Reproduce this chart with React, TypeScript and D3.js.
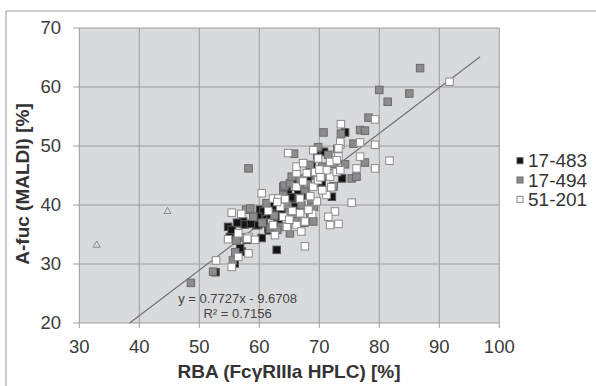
import React from "react";
import * as d3 from "d3";

const xTicks = [30, 40, 50, 60, 70, 80, 90, 100];
const yTicks = [20, 30, 40, 50, 60, 70];
const seriesNames = ["17-483", "17-494", "51-201"];

const s17483: [number, number][] = [
  [52.7,28.6],[55.9,30.1],[57.1,32.1],[56.8,32.7],[62.9,32.4],[55.1,34.6],[57.9,34.1],[60.4,34.4],
  [54.8,36.3],[55.4,35.8],[56.8,36.9],[57.3,37.2],[57.6,36.7],[59.8,36.6],[59.5,36.6],[60.7,36.9],
  [61.5,36.0],[61.6,35.7],[60.1,39.2],[60.9,38.3],[61.2,38.3],[62.9,38.6],[61.8,39.7],[60.7,38.9],
  [61.9,38.4],[63.7,39.2],[66.0,39.7],[64.6,42.3],[65.4,41.1],[64.8,41.9],[65.3,41.3],[67.1,41.6],
  [66.2,43.7],[68.1,44.2],[70.3,43.7],[70.4,43.9],[72.1,41.4],[73.8,44.5],[68.7,46.7],[69.7,48.4],
  [70.7,49.0],[70.8,49.0],[74.3,52.3],[59.8,38.0],[63.2,37.0],[64.2,40.5],[66.5,42.5],[62.5,39.9],
  [58.6,36.8],[67.8,43.0],[56.3,37.0],[63.0,38.0]
];

const s17494: [number, number][] = [
  [48.6,26.8],[52.3,28.7],[55.6,30.6],[56.2,34.0],[57.8,39.2],[58.5,39.4],[59.0,38.0],[58.2,46.2],
  [61.2,40.3],[61.8,36.0],[62.1,36.3],[63.7,36.3],[64.0,41.7],[64.0,43.1],[64.2,43.3],[65.1,43.7],
  [65.4,44.8],[65.1,38.9],[65.1,35.2],[66.0,37.7],[65.8,48.7],[66.2,38.5],[67.5,37.0],[67.6,42.6],
  [68.4,46.8],[68.7,40.3],[68.5,38.0],[69.0,37.2],[69.1,39.7],[69.8,49.8],[70.7,52.3],[72.3,43.1],
  [72.4,43.2],[73.6,52.1],[74.3,46.9],[75.4,44.5],[76.2,44.8],[75.7,50.4],[76.8,52.7],[77.6,52.6],
  [77.6,47.2],[78.2,54.8],[80.0,59.5],[81.4,57.5],[85.0,58.9],[86.8,63.2],[63.0,35.8],[62.5,38.2],
  [66.8,44.5],[67.0,40.0],[69.5,45.0],[70.5,46.5],[71.0,45.0],[64.5,40.0],[60.5,37.0],[57.5,34.5],
  [56.0,32.0],[68.0,43.5],[71.5,48.5],[72.5,47.0],[73.0,49.5]
];

const s51201: [number, number][] = [
  [52.8,30.6],[55.4,29.5],[56.5,31.2],[58.2,31.8],[54.8,34.2],[56.5,35.2],[58.2,34.6],[59.3,34.1],
  [55.4,38.7],[62.6,34.9],[62.3,36.6],[66.0,36.3],[64.6,36.3],[66.2,36.6],[67.6,37.2],[64.0,38.0],
  [66.8,38.6],[68.8,38.5],[63.5,39.7],[68.2,39.2],[69.6,40.6],[60.4,42.0],[62.3,41.1],[63.2,41.1],
  [66.8,41.1],[71.2,41.7],[66.2,43.1],[69.0,43.1],[67.3,44.0],[69.8,44.2],[71.8,44.8],[66.2,45.4],
  [67.9,45.4],[69.3,45.6],[71.2,45.9],[72.9,45.6],[73.5,45.9],[66.2,46.5],[67.3,47.1],[71.8,47.3],
  [69.8,47.9],[73.2,48.2],[64.8,48.8],[69.0,49.3],[73.5,50.2],[73.5,50.7],[73.2,49.6],[72.9,47.6],
  [73.6,53.7],[76.8,50.6],[79.3,50.2],[79.3,54.5],[76.8,48.2],[81.7,47.5],[76.2,46.2],[79.3,46.2],
  [75.4,40.4],[72.6,38.9],[71.5,38.0],[71.8,36.6],[73.2,36.8],[67.6,33.0],[91.7,60.9],[70.5,42.5],
  [65.5,39.0],[61.5,39.0],[67.0,35.5],[68.5,41.5],[70.0,46.0],[72.0,43.0],[63.0,40.5],[65.0,37.5],
  [57.0,38.5],[58.0,34.3],[64.3,41.0],[70.2,44.7]
];

const outliers: [number, number][] = [[32.9, 33.2], [44.7, 38.9]];

const slope = 0.7727;
const intercept = -9.6708;
const fitRange = [38.4, 96.8];
const eqLines = ["y = 0.7727x - 9.6708", "R² = 0.7156"];

const seriesData = [s17483, s17494, s51201];
const fills = ["#141414", "#8c8c8c", "#ffffff"];
const strokes = ["#555", "#6a6a6a", "#8a8a8a"];

export default function App() {
  const W = 596, H = 386;
  const x = d3.scaleLinear().domain([30, 100]).range([79.3, 499.3]);
  const y = d3.scaleLinear().domain([20, 70]).range([323, 28]);
  const ms = 7.5;
  const line = d3.line<number>().x(d => x(d)).y(d => y(slope * d + intercept));
  const tri = d3.symbol().type(d3.symbolTriangle).size(22)();
  const font = "Liberation Sans, Arial, Helvetica, sans-serif";
  return (
    <svg width={W} height={H} style={{ position: "absolute", left: 0, top: 0, background: "#fff" }} fontFamily={font}>
      <rect x={6} y={11} width={700} height={500} fill="#fff" stroke="#9a9a9a" strokeWidth={1} />
      <rect x={x(30)} y={y(70)} width={x(100) - x(30)} height={y(20) - y(70)} fill="#d9dadc" />
      {xTicks.map(t => (
        <line key={"gx" + t} x1={x(t)} x2={x(t)} y1={y(70)} y2={y(20) + 5} stroke="#9c9c9c" strokeWidth={1} />
      ))}
      {yTicks.map(t => (
        <line key={"gy" + t} x1={x(30) - 6} x2={x(100)} y1={y(t)} y2={y(t)} stroke="#9c9c9c" strokeWidth={1} />
      ))}
      {xTicks.map(t => (
        <text key={"tx" + t} x={x(t)} y={352.5} textAnchor="middle" fontSize={18.5} fill="#3a3a3a">{t}</text>
      ))}
      {yTicks.map(t => (
        <text key={"ty" + t} x={61} y={y(t)} dy="0.35em" textAnchor="end" fontSize={18.5} fill="#3a3a3a">{t}</text>
      ))}
      <path d={line(fitRange) || ""} stroke="#6e6e6e" strokeWidth={1.1} fill="none" />
      {seriesData.map((arr, si) =>
        arr.map((p, i) => (
          <rect key={si + "-" + i} x={x(p[0]) - ms / 2} y={y(p[1]) - ms / 2} width={ms} height={ms}
            fill={fills[si]} stroke={strokes[si]} strokeWidth={1} />
        ))
      )}
      {outliers.map((p, i) => (
        <path key={"o" + i} d={tri || ""} transform={`translate(${x(p[0])},${y(p[1])})`} fill="none" stroke="#8a8a8a" strokeWidth={1} />
      ))}
      {eqLines.map((t, i) => (
        <text key={"eq" + i} x={237.6} y={302.5 + i * 15} textAnchor="middle" fontSize={13} fill="#444">{t}</text>
      ))}
      {seriesNames.map((n, i) => (
        <g key={"lg" + i}>
          <rect x={517} y={160.7 + i * 19.3 - 3} width={6} height={6} fill={fills[i]} stroke={strokes[i]} strokeWidth={1} />
          <text x={528} y={160.7 + i * 19.3} dy="0.35em" fontSize={19} fill="#333">{n}</text>
        </g>
      ))}
      <text x={289} y={378} textAnchor="middle" fontSize={19} fontWeight="bold" fill="#333">RBA (FcγRIIIa HPLC) [%]</text>
      <text transform={`translate(29,184) rotate(-90)`} textAnchor="middle" fontSize={19} fontWeight="bold" fill="#333">A-fuc (MALDI) [%]</text>
    </svg>
  );
}
